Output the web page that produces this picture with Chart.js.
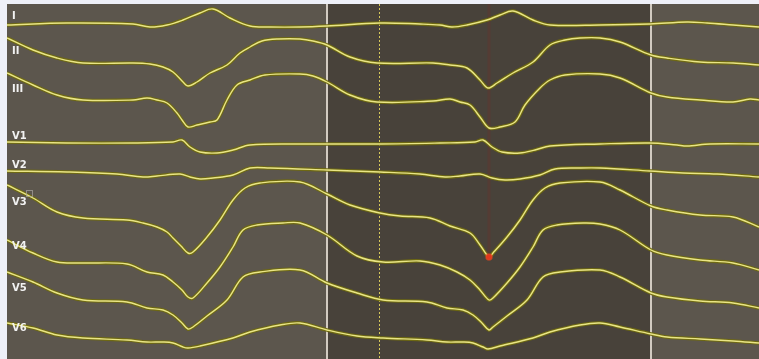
<!DOCTYPE html>
<html>
<head>
<meta charset="utf-8">
<script src="https://cdn.jsdelivr.net/npm/chart.js@4/dist/chart.umd.min.js"></script>
<style>
  html, body { margin: 0; padding: 0; background: #eef0f8; }
  #wrap { width: 759px; height: 359px; }
</style>
</head>
<body>
<div id="wrap"><canvas id="ecg" width="759" height="359"></canvas></div>
<script>
// Lead names and the strip row each label sits on
const leadNames = ['I', 'II', 'III', 'V1', 'V2', 'V3', 'V4', 'V5', 'V6'];
const labelRows = [16, 51, 89, 136, 165, 202, 246, 288, 328];

// Traces: [sample, strip position] pairs (position grows downward)
const leadI = [[7,25],[67,23],[133,24],[150,27],[167,25],[183,20],[200,13],[213,9],[230,18],[250,26],[270,27],[300,27],[327,26],[380,23],[420,24],[440,25],[452,27],[467,25],[487,20],[500,15],[513,11],[533,20],[550,25],[600,25],[650,24],[687,22],[707,23],[733,25],[759,27]];
const leadII = [[7,38],[33,50],[57,58],[83,63],[133,63],[150,64],[163,67],[173,72],[183,82],[188,86],[197,82],[210,73],[227,65],[240,53],[250,47],[262,41],[278,39],[300,39],[313,41],[327,45],[350,57],[377,63],[433,63],[450,65],[467,68],[480,80],[488,88],[497,83],[513,73],[533,62],[550,45],[565,40],[580,38],[600,38],[620,42],[651,55],[667,58],[700,62],[733,63],[759,65]];
const leadIII = [[7,73],[33,85],[57,95],[83,100],[133,100],[147,98],[157,100],[167,103],[177,113],[182,120],[188,127],[197,125],[210,122],[217,120],[227,100],[237,85],[250,80],[265,75],[300,74],[313,76],[327,82],[350,95],[377,102],[433,101],[450,99],[460,102],[470,105],[480,117],[489,128],[500,127],[515,122],[525,105],[540,88],[550,80],[565,75],[600,74],[620,78],[651,93],[667,97],[700,100],[733,102],[750,99],[759,100]];
const leadV1 = [[7,142],[67,143],[133,143],[173,142],[182,140],[190,147],[200,152],[217,153],[233,150],[250,145],[300,144],[380,144],[440,143],[475,142],[483,140],[492,147],[502,152],[520,153],[535,150],[550,146],[600,144],[650,143],[677,145],[687,146],[710,144],[759,144]];
const leadV2 = [[7,171],[67,172],[117,174],[143,177],[157,176],[180,174],[190,177],[200,179],[213,178],[233,175],[250,168],[270,168],[327,170],[380,172],[420,174],[445,177],[460,176],[480,174],[492,178],[505,180],[520,179],[540,175],[555,169],[580,168],[600,168],[650,171],[683,173],[717,174],[759,177]];
const leadV3 = [[7,185],[33,198],[57,212],[83,218],[127,220],[143,223],[157,227],[167,232],[173,238],[181,246],[188,253],[193,252],[207,237],[220,220],[233,200],[245,188],[260,183],[300,182],[327,194],[350,205],[380,213],[400,216],[430,218],[450,226],[470,233],[480,245],[489,257],[493,253],[507,237],[520,220],[533,200],[545,188],[560,183],[600,182],[620,190],[651,206],[667,210],[700,215],[733,217],[759,227]];
const leadV4 = [[7,240],[33,253],[57,262],[83,263],[127,264],[147,272],[163,275],[173,282],[182,290],[188,297],[193,298],[207,283],[220,267],[233,247],[243,230],[257,225],[283,223],[300,223],[327,235],[357,256],[383,262],[420,261],[440,265],[457,272],[470,280],[480,290],[489,300],[493,298],[507,283],[520,267],[533,247],[543,230],[557,225],[583,223],[600,224],[620,230],[651,250],[667,255],[700,260],[733,263],[759,270]];
const leadV5 = [[7,272],[33,282],[57,293],[83,300],[127,302],[147,308],[163,310],[173,315],[182,323],[188,329],[193,327],[207,316],[227,300],[243,277],[260,272],[300,270],[327,283],[357,293],[383,300],[427,302],[447,308],[463,310],[473,315],[482,323],[489,330],[493,327],[507,316],[527,300],[543,277],[560,272],[600,270],[620,277],[651,293],[667,297],[700,301],[733,303],[759,308]];
const leadV6 = [[7,323],[33,328],[57,335],[83,338],[127,340],[147,342],[163,342],[173,343],[183,347],[188,348],[200,346],[233,338],[250,332],[280,325],[300,323],[327,330],[357,336],[383,338],[427,340],[447,342],[463,342],[473,343],[483,347],[488,349],[500,346],[533,338],[550,332],[580,325],[600,323],[620,327],[651,334],[667,337],[700,339],[733,341],[759,343]];

const leads = [leadI, leadII, leadIII, leadV1, leadV2, leadV3, leadV4, leadV5, leadV6];

// Measurement cursors (sample positions)
const cursorSamples = [327, 651];
const dottedCursor = 379;
const markerLead = 5;      // V3
const markerSample = 489;  // picked point on V3

const toPoints = arr => arr.map(p => ({ x: p[0], y: p[1] }));

const datasets = [];
leads.forEach((lead, i) => {
  // dark olive halo under each trace
  datasets.push({
    label: leadNames[i] + ' edge',
    data: toPoints(lead),
    borderColor: 'rgba(112,106,16,0.95)',
    borderWidth: 3.6,
    pointRadius: 0,
    tension: 0.35,
    fill: false,
    order: 3
  });
  // bright trace on top
  datasets.push({
    label: leadNames[i],
    data: toPoints(lead),
    borderColor: '#e9e585',
    borderWidth: 1.4,
    pointRadius: 0,
    tension: 0.35,
    fill: false,
    order: 2
  });
});

const markerPoint = leads[markerLead].find(p => p[0] === markerSample);
datasets.push({
  label: 'marker',
  type: 'scatter',
  data: [{ x: markerPoint[0], y: markerPoint[1] }],
  pointRadius: 3,
  pointBackgroundColor: '#e0381e',
  pointBorderColor: 'rgba(230,70,30,0.6)',
  pointBorderWidth: 1.5,
  order: 1
});

const stripPlugin = {
  id: 'strip',
  beforeDraw(chart) {
    const { ctx, chartArea: a, scales: { x } } = chart;
    ctx.save();
    ctx.fillStyle = '#eef0f8';
    ctx.fillRect(0, 0, chart.width, chart.height);
    ctx.fillStyle = '#5c564d';
    ctx.fillRect(a.left, a.top, a.right - a.left, a.bottom - a.top);
    const x0 = x.getPixelForValue(cursorSamples[0]);
    const x1 = x.getPixelForValue(cursorSamples[1]);
    ctx.fillStyle = '#48423a';
    ctx.fillRect(x0, a.top, x1 - x0, a.bottom - a.top);
    ctx.restore();
  },
  beforeDatasetsDraw(chart) {
    const { ctx, chartArea: a, scales: { x, y } } = chart;
    ctx.save();
    // faint marker guide
    const mx = x.getPixelForValue(markerPoint[0]);
    const my = y.getPixelForValue(markerPoint[1]);
    ctx.strokeStyle = 'rgba(115,45,40,0.28)';
    ctx.lineWidth = 3;
    ctx.beginPath();
    ctx.moveTo(mx, a.top);
    ctx.lineTo(mx, my);
    ctx.stroke();
    // dotted cursor
    const dx = Math.round(x.getPixelForValue(dottedCursor)) + 0.5;
    ctx.strokeStyle = '#d6c85a';
    ctx.lineWidth = 1;
    ctx.setLineDash([2, 2]);
    ctx.beginPath();
    ctx.moveTo(dx, a.top);
    ctx.lineTo(dx, a.bottom);
    ctx.stroke();
    ctx.setLineDash([]);
    // solid cursors
    ctx.strokeStyle = '#d2cbc1';
    ctx.lineWidth = 2;
    cursorSamples.forEach(s => {
      const cx = Math.round(x.getPixelForValue(s));
      ctx.beginPath();
      ctx.moveTo(cx, a.top);
      ctx.lineTo(cx, a.bottom);
      ctx.stroke();
    });
    ctx.restore();
  },
  afterDatasetsDraw(chart) {
    const { ctx, scales: { x, y } } = chart;
    ctx.save();
    ctx.font = 'bold 10px "DejaVu Sans"';
    ctx.fillStyle = '#f2f2f2';
    ctx.textBaseline = 'middle';
    ctx.textAlign = 'left';
    const lx = x.getPixelForValue(12);
    leadNames.forEach((name, i) => {
      ctx.fillText(name, lx, y.getPixelForValue(labelRows[i]));
    });
    // small selection box next to V3
    ctx.strokeStyle = 'rgba(170,165,160,0.7)';
    ctx.lineWidth = 1;
    ctx.strokeRect(x.getPixelForValue(26) + 0.5, y.getPixelForValue(190) + 0.5, 6, 6);
    ctx.restore();
  }
};

new Chart(document.getElementById('ecg'), {
  type: 'line',
  data: { datasets },
  options: {
    responsive: false,
    animation: false,
    devicePixelRatio: 1,
    layout: { autoPadding: false, padding: { left: 7, top: 4, right: 0, bottom: 0 } },
    plugins: { legend: { display: false }, tooltip: { enabled: false } },
    scales: {
      x: { type: 'linear', min: 7, max: 759, display: false },
      y: { type: 'linear', min: 4, max: 359, reverse: true, display: false }
    }
  },
  plugins: [stripPlugin]
});
</script>
</body>
</html>
